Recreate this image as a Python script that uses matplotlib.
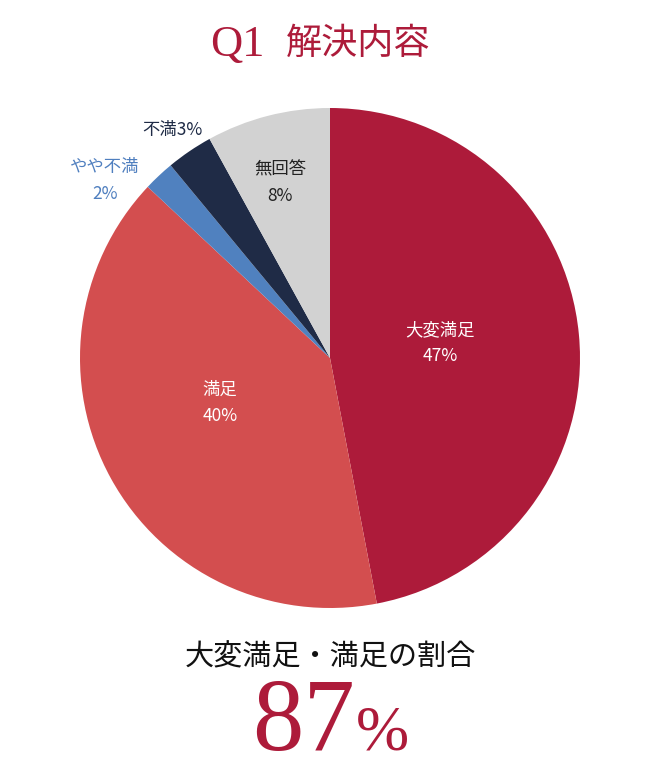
import matplotlib
matplotlib.use('Agg')
import matplotlib.pyplot as plt

plt.rcParams['font.family'] = ['Noto Sans CJK JP', 'DejaVu Sans']

# data
labels = ['大変満足', '満足', 'やや不満', '不満', '無回答']
values = [47, 40, 2, 3, 8]
colors = ['#ad1b3a', '#d34e4f', '#5081bf', '#1f2b46', '#d2d2d2']
text_colors = ['white', 'white', '#4f7fbf', '#1f2b46', '#222222']
title_q = 'Q1'
title_txt = '解決内容'
summary_txt = '大変満足・満足の割合'
summary_val = '87'

# label positions in pie coords (radius 1)
label_pos = [(0.44, 0.06), (-0.44, -0.18), (-0.90, 0.71), (-0.63, 0.91), (-0.20, 0.70)]

red = '#ad1b3a'

fig = plt.figure(figsize=(6.6, 7.62), dpi=100)
ax = fig.add_axes([80/660, (762-608)/762, 500/660, 500/762])
ax.pie(values, colors=colors, startangle=90, counterclock=False, radius=1,
       wedgeprops={'linewidth': 0})
ax.set_xlim(-1, 1)
ax.set_ylim(-1, 1)
ax.set_aspect('equal')
ax.axis('off')

for i, (lab, v) in enumerate(zip(labels, values)):
    x, y = label_pos[i]
    if lab == '不満':
        ax.text(x, y, f'{lab}{v}%', ha='center', va='center', fontsize=12.5,
                color=text_colors[i])
    else:
        ax.text(x, y, f'{lab}\n{v}%', ha='center', va='center', fontsize=12.5,
                color=text_colors[i], linespacing=1.6)

# title
fig.text(264/660, 1 - 45/762, title_q, ha='right', va='center', fontsize=32,
         family='Liberation Serif', color=red)
fig.text(286/660, 1 - 44/762, title_txt, ha='left', va='center', fontsize=26,
         color=red)

# summary
fig.text(330/660, 1 - 657/762, summary_txt, ha='center', va='center', fontsize=21,
         color='#111111')
fig.text(355/660, 1 - 750/762, summary_val, ha='right', va='baseline', fontsize=74,
         family='Liberation Serif', color=red)
fig.text(356/660, 1 - 750/762, '%', ha='left', va='baseline', fontsize=46,
         family='Liberation Serif', color=red)

fig.savefig('out.png', dpi=100)
